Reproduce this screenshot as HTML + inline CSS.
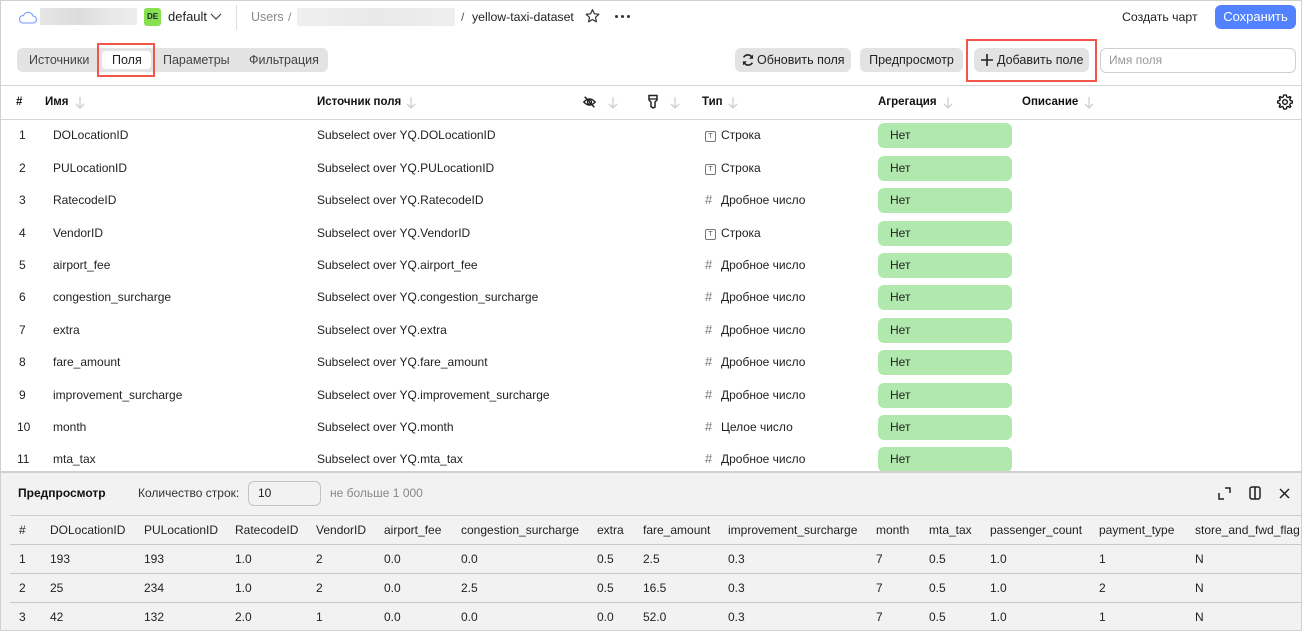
<!DOCTYPE html>
<html><head><meta charset="utf-8">
<style>
*{box-sizing:border-box;margin:0;padding:0}
html,body{width:1302px;height:631px;overflow:hidden;background:#fff}
body{font-family:"Liberation Sans","Noto Sans CJK SC",sans-serif;font-size:12px;color:#222;position:relative}
.a{position:absolute;white-space:nowrap}
.frame{position:absolute;left:0;top:0;width:1302px;height:631px;border:1px solid #d0d0d0;pointer-events:none;z-index:10}
.btn{position:absolute;background:#e3e3e3;border-radius:6px;height:24px;line-height:24px;font-size:12.5px;color:#222}
.hd{font-weight:bold;font-size:11.5px;color:#111}
.row{position:absolute;left:0;width:1302px;height:32px}
.row .a{line-height:32px;top:0}
.row .pill{position:absolute;left:878px;width:134px;height:25px;top:4px;background:#b0e8ad;border-radius:6px;line-height:25px;padding-left:12px}
.ti{display:inline-block;width:16px;vertical-align:middle;line-height:10px}
.ti i{display:inline-block;width:11px;height:11px;border:1px solid #777;border-radius:2px;font-size:7px;line-height:9px;text-align:center;color:#555;font-style:normal}
.hs{display:inline-block;width:16px;color:#777;font-size:13px}
.pr{position:absolute;left:0;width:1302px;height:29px;border-bottom:1px solid #c8c8c8}
.pr .a{line-height:28px;top:0}
</style></head><body>

<!-- top bar -->
<svg class="a" style="left:19px;top:10px" width="18" height="14" viewBox="0 0 18 14"><path d="M4 13 H14 A3.5 3.5 0 0 0 14 6 A5 5 0 0 0 4.5 5.5 A3.7 3.7 0 0 0 4 13 Z" fill="none" stroke="#8aa8ff" stroke-width="1.3"/></svg>
<div class="a" style="left:40px;top:8px;width:97px;height:17px;background:linear-gradient(90deg,#e6e6e6,#dcdcdc 40%,#e8e8e8 70%,#ededed)"></div>
<div class="a" style="left:144px;top:8px;width:17px;height:18px;background:#86e04f;border-radius:3px;font-size:8px;font-weight:bold;line-height:18px;text-align:center;color:#223">DE</div>
<div class="a" style="left:168px;top:9px;line-height:16px;font-size:13px">default</div>
<svg class="a" style="left:210px;top:13px" width="12" height="8"><path d="M1 1 L6 6 L11 1" fill="none" stroke="#444" stroke-width="1.2"/></svg>
<div class="a" style="left:236px;top:5px;width:1px;height:25px;background:#ddd"></div>
<div class="a" style="left:251px;top:9px;line-height:16px;color:#888;font-size:12.5px">Users</div>
<div class="a" style="left:288px;top:9px;line-height:16px;color:#888">/</div>
<div class="a" style="left:297px;top:8px;width:158px;height:18px;background:linear-gradient(90deg,#efefef,#e9e9e9 50%,#eeeeee)"></div>
<div class="a" style="left:461px;top:9px;line-height:16px;color:#555">/</div>
<div class="a" style="left:472px;top:9px;line-height:16px;font-size:12.3px">yellow-taxi-dataset</div>
<svg class="a" style="left:584px;top:8px" width="17" height="16" viewBox="0 0 24 24"><path d="M12 2.5 L14.8 8.7 L21.5 9.4 L16.5 14 L17.9 20.7 L12 17.3 L6.1 20.7 L7.5 14 L2.5 9.4 L9.2 8.7 Z" fill="none" stroke="#333" stroke-width="1.8" stroke-linejoin="round"/></svg>
<div class="a" style="left:615px;top:15px;width:3px;height:3px;background:#333;border-radius:50%"></div>
<div class="a" style="left:621px;top:15px;width:3px;height:3px;background:#333;border-radius:50%"></div>
<div class="a" style="left:627px;top:15px;width:3px;height:3px;background:#333;border-radius:50%"></div>
<div class="a" style="left:1122px;top:9px;line-height:16px;font-size:12.3px">Создать чарт</div>
<div class="a" style="left:1215px;top:5px;width:81px;height:24px;background:#5282ff;border-radius:6px;color:#fff;text-align:center;line-height:24px;font-size:13px">Сохранить</div>

<!-- tabs -->
<div class="a" style="left:17px;top:48px;width:311px;height:24px;background:#e3e3e3;border-radius:6px"></div>
<div class="a" style="left:29px;top:52px;line-height:16px;color:#444;font-size:12.5px">Источники</div>
<div class="a" style="left:102px;top:51px;width:49px;height:18px;background:#fff;border-radius:4px"></div>
<div class="a" style="left:112px;top:52px;line-height:16px;font-size:12.5px">Поля</div>
<div class="a" style="left:97px;top:43px;width:58px;height:34px;border:2px solid #f0564a"></div>
<div class="a" style="left:163px;top:52px;line-height:16px;color:#444;font-size:12.5px">Параметры</div>
<div class="a" style="left:249px;top:52px;line-height:16px;color:#444;font-size:12.5px">Фильтрация</div>

<!-- right buttons -->
<div class="btn" style="left:735px;top:48px;width:116px;padding-left:22px">Обновить поля</div>
<svg class="a" style="left:741px;top:53px" width="14" height="14" viewBox="0 0 16 16"><path d="M13 6 A5.5 5.5 0 0 0 3 5 M3 10 A5.5 5.5 0 0 0 13 11" fill="none" stroke="#222" stroke-width="1.8"/><path d="M13.8 1.8 L13.8 6.5 L9.2 6.5Z M2.2 14.2 L2.2 9.5 L6.8 9.5Z" fill="#222"/></svg>
<div class="btn" style="left:860px;top:48px;width:103px;text-align:center">Предпросмотр</div>
<div class="btn" style="left:974px;top:48px;width:115px;padding-left:23px">Добавить поле</div>
<svg class="a" style="left:980px;top:53px" width="14" height="14"><path d="M7 1 V13 M1 7 H13" stroke="#222" stroke-width="1.6"/></svg>
<div class="a" style="left:966px;top:39px;width:131px;height:43px;border:2px solid #f0564a"></div>
<div class="a" style="left:1100px;top:48px;width:196px;height:25px;border:1px solid #cfcfcf;border-radius:6px;line-height:23px;padding-left:8px;color:#999">Имя поля</div>

<!-- table header -->
<div class="a" style="left:0;top:85px;width:1302px;height:1px;background:#d6d6d6"></div>
<div class="a" style="left:0;top:119px;width:1302px;height:1px;background:#d6d6d6"></div>
<div class="a hd" style="left:16px;top:94px;line-height:16px">#</div>
<div class="a hd" style="left:45px;top:94px;line-height:16px">Имя</div>
<div class="a hd" style="left:317px;top:94px;line-height:16px">Источник поля</div>
<svg class="a" style="left:582px;top:95px" width="15" height="14" viewBox="0 0 16 16"><path d="M1.5 8 Q8 1 14.5 8 Q8 15 1.5 8Z" fill="none" stroke="#222" stroke-width="1.6"/><circle cx="8" cy="8" r="2.3" fill="none" stroke="#222" stroke-width="1.5"/><path d="M2.5 2 L13.5 14" stroke="#222" stroke-width="1.7"/></svg>
<svg class="a" style="left:647px;top:94px" width="12" height="15" viewBox="0 0 12 15"><path d="M2 1.5 H10 V6 L8 8 V13 L6 14 L4 12.5 V8 L2 6Z" fill="none" stroke="#222" stroke-width="1.5"/><path d="M2 5 H10" stroke="#222" stroke-width="1.3"/></svg>
<div class="a hd" style="left:702px;top:94px;line-height:16px">Тип</div>
<div class="a hd" style="left:878px;top:94px;line-height:16px">Агрегация</div>
<div class="a hd" style="left:1022px;top:94px;line-height:16px">Описание</div>
<svg class="a" style="left:75px;top:96px" width="10" height="13"><path d="M5 1 V12 M1 8 L5 12 L9 8" fill="none" stroke="#cfcfcf" stroke-width="1.3"/></svg>
<svg class="a" style="left:406px;top:96px" width="10" height="13"><path d="M5 1 V12 M1 8 L5 12 L9 8" fill="none" stroke="#cfcfcf" stroke-width="1.3"/></svg>
<svg class="a" style="left:608px;top:96px" width="10" height="13"><path d="M5 1 V12 M1 8 L5 12 L9 8" fill="none" stroke="#cfcfcf" stroke-width="1.3"/></svg>
<svg class="a" style="left:670px;top:96px" width="10" height="13"><path d="M5 1 V12 M1 8 L5 12 L9 8" fill="none" stroke="#cfcfcf" stroke-width="1.3"/></svg>
<svg class="a" style="left:728px;top:96px" width="10" height="13"><path d="M5 1 V12 M1 8 L5 12 L9 8" fill="none" stroke="#cfcfcf" stroke-width="1.3"/></svg>
<svg class="a" style="left:943px;top:96px" width="10" height="13"><path d="M5 1 V12 M1 8 L5 12 L9 8" fill="none" stroke="#cfcfcf" stroke-width="1.3"/></svg>
<svg class="a" style="left:1084px;top:96px" width="10" height="13"><path d="M5 1 V12 M1 8 L5 12 L9 8" fill="none" stroke="#cfcfcf" stroke-width="1.3"/></svg>
<svg class="a" style="left:1277px;top:94px" width="16" height="16" viewBox="0 0 24 24"><path d="M12 1.5 L14 1.5 L14.6 4.4 L16.8 5.4 L19.3 3.8 L20.7 5.2 L19.1 7.7 L20.1 9.9 L23 10.5 L23 13.5 L20.1 14.1 L19.1 16.3 L20.7 18.8 L19.3 20.2 L16.8 18.6 L14.6 19.6 L14 22.5 L10 22.5 L9.4 19.6 L7.2 18.6 L4.7 20.2 L3.3 18.8 L4.9 16.3 L3.9 14.1 L1 13.5 L1 10.5 L3.9 9.9 L4.9 7.7 L3.3 5.2 L4.7 3.8 L7.2 5.4 L9.4 4.4 L10 1.5Z" fill="none" stroke="#111" stroke-width="2" stroke-linejoin="round"/><circle cx="12" cy="12" r="3.5" fill="none" stroke="#111" stroke-width="2"/></svg>

<!-- rows -->
<div class="row" style="top:119px"><div class="a" style="left:19px">1</div><div class="a" style="left:53px">DOLocationID</div><div class="a" style="left:317px">Subselect over YQ.DOLocationID</div><div class="a" style="left:705px"><span class="ti"><i>T</i></span>Строка</div><div class="a pill">Нет</div></div>
<div class="row" style="top:152px"><div class="a" style="left:19px">2</div><div class="a" style="left:53px">PULocationID</div><div class="a" style="left:317px">Subselect over YQ.PULocationID</div><div class="a" style="left:705px"><span class="ti"><i>T</i></span>Строка</div><div class="a pill">Нет</div></div>
<div class="row" style="top:184px"><div class="a" style="left:19px">3</div><div class="a" style="left:53px">RatecodeID</div><div class="a" style="left:317px">Subselect over YQ.RatecodeID</div><div class="a" style="left:705px"><span class="hs">#</span>Дробное число</div><div class="a pill">Нет</div></div>
<div class="row" style="top:217px"><div class="a" style="left:19px">4</div><div class="a" style="left:53px">VendorID</div><div class="a" style="left:317px">Subselect over YQ.VendorID</div><div class="a" style="left:705px"><span class="ti"><i>T</i></span>Строка</div><div class="a pill">Нет</div></div>
<div class="row" style="top:249px"><div class="a" style="left:19px">5</div><div class="a" style="left:53px">airport_fee</div><div class="a" style="left:317px">Subselect over YQ.airport_fee</div><div class="a" style="left:705px"><span class="hs">#</span>Дробное число</div><div class="a pill">Нет</div></div>
<div class="row" style="top:281px"><div class="a" style="left:19px">6</div><div class="a" style="left:53px">congestion_surcharge</div><div class="a" style="left:317px">Subselect over YQ.congestion_surcharge</div><div class="a" style="left:705px"><span class="hs">#</span>Дробное число</div><div class="a pill">Нет</div></div>
<div class="row" style="top:314px"><div class="a" style="left:19px">7</div><div class="a" style="left:53px">extra</div><div class="a" style="left:317px">Subselect over YQ.extra</div><div class="a" style="left:705px"><span class="hs">#</span>Дробное число</div><div class="a pill">Нет</div></div>
<div class="row" style="top:346px"><div class="a" style="left:19px">8</div><div class="a" style="left:53px">fare_amount</div><div class="a" style="left:317px">Subselect over YQ.fare_amount</div><div class="a" style="left:705px"><span class="hs">#</span>Дробное число</div><div class="a pill">Нет</div></div>
<div class="row" style="top:379px"><div class="a" style="left:19px">9</div><div class="a" style="left:53px">improvement_surcharge</div><div class="a" style="left:317px">Subselect over YQ.improvement_surcharge</div><div class="a" style="left:705px"><span class="hs">#</span>Дробное число</div><div class="a pill">Нет</div></div>
<div class="row" style="top:411px"><div class="a" style="left:17px">10</div><div class="a" style="left:53px">month</div><div class="a" style="left:317px">Subselect over YQ.month</div><div class="a" style="left:705px"><span class="hs">#</span>Целое число</div><div class="a pill">Нет</div></div>
<div class="row" style="top:443px"><div class="a" style="left:17px">11</div><div class="a" style="left:53px">mta_tax</div><div class="a" style="left:317px">Subselect over YQ.mta_tax</div><div class="a" style="left:705px"><span class="hs">#</span>Дробное число</div><div class="a pill">Нет</div></div>

<!-- preview panel -->
<div class="a" style="left:0;top:471px;width:1302px;height:160px;background:#f2f2f2;border-top:2px solid #d0d0d0"></div>
<div class="a" style="left:18px;top:485px;line-height:16px;font-weight:bold;color:#111">Предпросмотр</div>
<div class="a" style="left:138px;top:485px;line-height:16px;color:#333">Количество строк:</div>
<div class="a" style="left:248px;top:481px;width:73px;height:25px;border:1px solid #c4c4c4;border-radius:6px;background:#f2f2f2;line-height:23px;padding-left:9px">10</div>
<div class="a" style="left:330px;top:485px;line-height:16px;color:#888">не больше 1 000</div>
<svg class="a" style="left:1218px;top:487px" width="13" height="13"><path d="M1 6 V12 H6 M7 1 H12 V6" fill="none" stroke="#222" stroke-width="1.5"/></svg>
<svg class="a" style="left:1249px;top:486px" width="12" height="14"><rect x="1" y="1" width="10" height="12" rx="2" fill="none" stroke="#222" stroke-width="1.5"/><path d="M6 1 V13" stroke="#222" stroke-width="1.6"/></svg>
<svg class="a" style="left:1279px;top:488px" width="11" height="11"><path d="M1 1 L10 10 M10 1 L1 10" stroke="#222" stroke-width="1.5"/></svg>
<div class="a" style="left:10px;top:515px;width:1292px;height:1px;background:#cfcfcf"></div>

<div class="pr" style="top:516px;left:10px;width:1292px"><div class="a" style="left:9px">#</div><div class="a" style="left:40px">DOLocationID</div><div class="a" style="left:134px">PULocationID</div><div class="a" style="left:225px">RatecodeID</div><div class="a" style="left:306px">VendorID</div><div class="a" style="left:374px">airport_fee</div><div class="a" style="left:451px">congestion_surcharge</div><div class="a" style="left:587px">extra</div><div class="a" style="left:633px">fare_amount</div><div class="a" style="left:718px">improvement_surcharge</div><div class="a" style="left:866px">month</div><div class="a" style="left:919px">mta_tax</div><div class="a" style="left:980px">passenger_count</div><div class="a" style="left:1089px">payment_type</div><div class="a" style="left:1185px">store_and_fwd_flag</div></div>
<div class="pr" style="top:545px;left:10px;width:1292px"><div class="a" style="left:9px">1</div><div class="a" style="left:40px">193</div><div class="a" style="left:134px">193</div><div class="a" style="left:225px">1.0</div><div class="a" style="left:306px">2</div><div class="a" style="left:374px">0.0</div><div class="a" style="left:451px">0.0</div><div class="a" style="left:587px">0.5</div><div class="a" style="left:633px">2.5</div><div class="a" style="left:718px">0.3</div><div class="a" style="left:866px">7</div><div class="a" style="left:919px">0.5</div><div class="a" style="left:980px">1.0</div><div class="a" style="left:1089px">1</div><div class="a" style="left:1185px">N</div></div>
<div class="pr" style="top:574px;left:10px;width:1292px"><div class="a" style="left:9px">2</div><div class="a" style="left:40px">25</div><div class="a" style="left:134px">234</div><div class="a" style="left:225px">1.0</div><div class="a" style="left:306px">2</div><div class="a" style="left:374px">0.0</div><div class="a" style="left:451px">2.5</div><div class="a" style="left:587px">0.5</div><div class="a" style="left:633px">16.5</div><div class="a" style="left:718px">0.3</div><div class="a" style="left:866px">7</div><div class="a" style="left:919px">0.5</div><div class="a" style="left:980px">1.0</div><div class="a" style="left:1089px">2</div><div class="a" style="left:1185px">N</div></div>
<div class="pr" style="top:603px;left:10px;width:1292px"><div class="a" style="left:9px">3</div><div class="a" style="left:40px">42</div><div class="a" style="left:134px">132</div><div class="a" style="left:225px">2.0</div><div class="a" style="left:306px">1</div><div class="a" style="left:374px">0.0</div><div class="a" style="left:451px">0.0</div><div class="a" style="left:587px">0.0</div><div class="a" style="left:633px">52.0</div><div class="a" style="left:718px">0.3</div><div class="a" style="left:866px">7</div><div class="a" style="left:919px">0.5</div><div class="a" style="left:980px">1.0</div><div class="a" style="left:1089px">1</div><div class="a" style="left:1185px">N</div></div>

<div class="frame"></div>
</body></html>
